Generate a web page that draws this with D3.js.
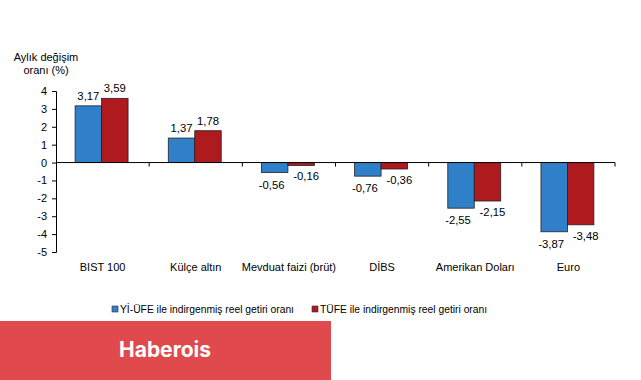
<!DOCTYPE html>
<html><head><meta charset="utf-8">
<script src="https://cdn.jsdelivr.net/npm/d3@7"></script>
<style>body{margin:0;background:#fff;}svg{display:block;font-family:"Liberation Sans",Arial,sans-serif;}</style>
</head><body>
<svg id="c" width="641" height="380"></svg>
<script>
const categories = ["BIST 100","Külçe altın","Mevduat faizi (brüt)","DİBS","Amerikan Doları","Euro"];
const seriesNames = ["Yİ-ÜFE ile indirgenmiş reel getiri oranı","TÜFE ile indirgenmiş reel getiri oranı"];
const yiufe = [3.17,1.37,-0.56,-0.76,-2.55,-3.87];
const tufe = [3.59,1.78,-0.16,-0.36,-2.15,-3.48];
const yTicks = [4,3,2,1,0,-1,-2,-3,-4,-5];
const colors = ["#2f80c8","#ae1a1e"];

const svg = d3.select("#c");
const x = d3.scaleBand().domain(categories).range([56,615]).paddingInner(0).paddingOuter(0);
const y = d3.scaleLinear().domain([-5,4]).range([252,91]);
const xs = d3.scaleBand().domain([0,1]).range([0,x.bandwidth()]).paddingInner(0).paddingOuter(0.76);
const fmt = v => d3.format(".2f")(v).replace(".",",").replace("\u2212","-");

// y axis
const ya = svg.append("g").attr("transform","translate(56,0)")
  .call(d3.axisLeft(y).tickValues(yTicks).tickSize(4).tickPadding(5).tickFormat(d=>String(d)));
ya.select(".domain").attr("stroke","#000");
ya.selectAll(".tick line").attr("stroke","#000");
ya.selectAll("text").attr("font-size",11).attr("fill","#000").attr("font-family","Liberation Sans, Arial, sans-serif");

// bars
const data = [yiufe, tufe];
const negDx = [-3, 5];
const negDy = [16, 15];
data.forEach((arr,si)=>{
  svg.append("g").selectAll("rect").data(arr).join("rect")
    .attr("x",(d,i)=>x(categories[i])+xs(si)-1)
    .attr("width",xs.bandwidth())
    .attr("y",d=>y(Math.max(0,d)))
    .attr("height",d=>Math.abs(y(d)-y(0)))
    .attr("fill",colors[si]).attr("stroke","#222").attr("stroke-width",0.8);
  svg.append("g").selectAll("text").data(arr).join("text")
    .attr("x",(d,i)=>x(categories[i])+xs(si)-1+xs.bandwidth()/2 + (d<0? negDx[si]:0))
    .attr("y",d=>d>=0? y(d)-6 : y(d)+negDy[si])
    .attr("text-anchor","middle").attr("font-size",11.3).attr("fill","#000")
    .text(d=>fmt(d));
});

// x axis at zero
svg.append("line").attr("x1",56).attr("x2",615).attr("y1",y(0)).attr("y2",y(0)).attr("stroke","#000");
const bounds = categories.map(c=>x(c)).concat([615]).slice(1);
svg.append("g").selectAll("line").data(bounds).join("line")
  .attr("x1",d=>d).attr("x2",d=>d).attr("y1",y(0)).attr("y2",y(0)+4).attr("stroke","#000");
svg.append("g").selectAll("text").data(categories).join("text")
  .attr("x",d=>x(d)+x.bandwidth()/2).attr("y",271)
  .attr("text-anchor","middle").attr("font-size",11).attr("fill","#000").text(d=>d);

// y title
svg.append("text").attr("x",46).attr("y",61).attr("text-anchor","middle").attr("font-size",11).text("Aylık değişim");
svg.append("text").attr("x",46).attr("y",74).attr("text-anchor","middle").attr("font-size",11).text("oranı (%)");

// legend
const lx = [112,312];
seriesNames.forEach((n,i)=>{
  svg.append("rect").attr("x",lx[i]).attr("y",306).attr("width",6).attr("height",6)
    .attr("fill",colors[i]).attr("stroke","#333").attr("stroke-width",0.6);
  svg.append("text").attr("x",lx[i]+8).attr("y",313).attr("font-size",10.3).text(n);
});

// banner
svg.append("rect").attr("x",0).attr("y",321).attr("width",331).attr("height",59).attr("fill","#e04a4c");
svg.append("text").attr("x",165).attr("y",357).attr("text-anchor","middle").attr("fill","#fff")
  .attr("font-size",21).attr("font-weight","bold").attr("font-family","Inter, 'Open Sans', sans-serif").text("Haberois");
</script>
</body></html>
